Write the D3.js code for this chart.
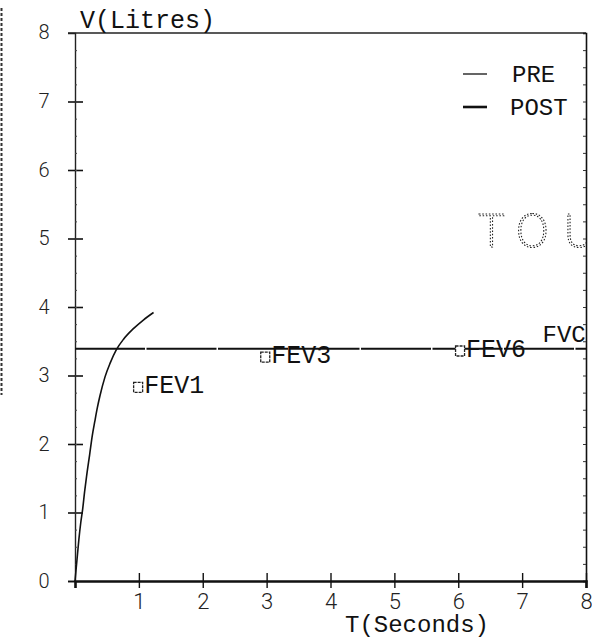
<!DOCTYPE html>
<html lang="en">
<head>
<meta charset="UTF-8">
<title>Spirometry V/T</title>
<script src="https://d3js.org/d3.v7.min.js"></script>
<style>
  body { margin: 0; background: #fff; }
  .mono { font-family: "Liberation Mono", "DejaVu Sans Mono", monospace; fill: #111; }
  .tick text { font-family: Roboto, "DejaVu Sans", sans-serif; font-weight: 300; fill: #222; }
</style>
</head>
<body>
<svg width="592" height="640"></svg>
<script>
// volume-time curve (PRE)
const curveT = [0, 0.03, 0.06, 0.09, 0.12, 0.15, 0.18, 0.23, 0.27, 0.31, 0.35, 0.39, 0.47, 0.55, 0.65, 0.76, 0.91, 1.07, 1.23];
const curveV = [0, 0.30, 0.60, 0.85, 1.05, 1.30, 1.52, 1.85, 2.12, 2.33, 2.53, 2.70, 2.98, 3.18, 3.38, 3.53, 3.68, 3.81, 3.92];

// FVC level line
const fvcValue = 3.39;

// marker labels
const markNames = ["FEV1", "FEV3", "FEV6"];
const markT = [0.91, 2.90, 5.95];
const markV = [2.74, 3.18, 3.27];
const fvcLabelT = 7.32;
const fvcLabelV = 3.49;

const xTicks = [1, 2, 3, 4, 5, 6, 7, 8];
const yTicks = [0, 1, 2, 3, 4, 5, 6, 7, 8];

const legendNames = ["PRE", "POST"];

const margin = { top: 33, right: 6, bottom: 59, left: 75 };
const width = 592 - margin.left - margin.right;
const height = 640 - margin.top - margin.bottom;

const svg = d3.select("svg");

const g = svg.append("g")
    .attr("transform", `translate(${margin.left},${margin.top})`);

const x = d3.scaleLinear().domain([0, 8]).range([0, width]);
const y = d3.scaleLinear().domain([0, 8]).range([height, 0]);

svg.append("defs").append("clipPath").attr("id", "plot")
    .append("rect").attr("width", width).attr("height", height);

// scanned edge on the far left
svg.append("line")
    .attr("x1", 1.5).attr("x2", 1.5).attr("y1", 8).attr("y2", 395)
    .attr("stroke", "#333").attr("stroke-width", 2)
    .attr("stroke-dasharray", "3,2");

// faint dotted watermark (grayscale filter keeps the edges grey)
g.append("g").attr("clip-path", "url(#plot)")
    .style("filter", "grayscale(1)")
    .append("text")
    .attr("y", y(4.87))
    .style("font-family", "DejaVu Sans, sans-serif")
    .style("font-size", "44px")
    .style("font-weight", 200)
    .attr("fill", "none")
    .attr("stroke", "#222")
    .attr("stroke-width", 1.1)
    .attr("stroke-dasharray", "1.5,1.8")
    .selectAll("tspan")
    .data(["T", "O", "U"])
    .enter()
    .append("tspan")
    .attr("x", (d, i) => [403, 440, 488][i])
    .text(d => d);

// y axis
const yAxis = g.append("g")
    .call(d3.axisLeft(y).tickValues(yTicks.filter(d => d < 8)).tickFormat(d3.format("d")).tickSize(7).tickPadding(0));
yAxis.select(".domain").attr("stroke", "#222").attr("stroke-width", 1.4);
yAxis.selectAll(".tick line")
    .attr("x1", d => d === 0 ? 0 : 8)
    .attr("stroke", "#111").attr("stroke-width", 1.6);
yAxis.selectAll(".tick text")
    .attr("x", -31).attr("text-anchor", "middle")
    .style("font-size", "20px");
// the top label sits on the frame line
yAxis.append("g").attr("class", "tick")
    .attr("transform", `translate(0,${y(8)})`)
    .append("text").attr("x", -31).attr("dy", "0.32em")
    .attr("text-anchor", "middle").style("font-size", "20px")
    .text("8");

// small inner marks along the left and right sides
g.append("g")
    .call(d3.axisRight(y).tickValues(d3.range(0.25, 8, 0.25)).tickFormat("").tickSize(2))
    .call(a => a.select(".domain").remove())
    .selectAll("line").attr("stroke", "#444").attr("stroke-width", 1);
g.append("g")
    .attr("transform", `translate(${width},0)`)
    .call(d3.axisLeft(y).tickValues(d3.range(0.25, 8, 0.25)).tickFormat("").tickSize(3))
    .call(a => a.select(".domain").attr("stroke", "#111").attr("stroke-width", 1.6))
    .selectAll("line").attr("stroke", "#333").attr("stroke-width", 1);

// top frame line
g.append("line")
    .attr("x1", -7).attr("x2", width)
    .attr("y1", y(8)).attr("y2", y(8))
    .attr("stroke", "#222").attr("stroke-width", 1.4);

// x axis
const xAxis = g.append("g")
    .attr("transform", `translate(0,${height})`)
    .call(d3.axisBottom(x).tickValues(xTicks).tickFormat(d3.format("d")).tickSize(7).tickPadding(5));
xAxis.select(".domain").attr("stroke", "#111").attr("stroke-width", 2.6);
xAxis.selectAll(".tick line")
    .attr("y1", -8)
    .attr("stroke", "#111").attr("stroke-width", 1.4);
xAxis.selectAll(".tick text").style("font-size", "22px");

// FVC level
g.append("line")
    .attr("x1", x(0)).attr("x2", x(8))
    .attr("y1", y(fvcValue)).attr("y2", y(fvcValue))
    .attr("stroke", "#111").attr("stroke-width", 2)
    .attr("stroke-dasharray", "70,1.5");

// PRE curve
const line = d3.line()
    .x((d, i) => x(curveT[i]))
    .y(d => y(d))
    .curve(d3.curveMonotoneX);
g.append("path")
    .datum(curveV)
    .attr("d", line)
    .attr("fill", "none")
    .attr("stroke", "#111")
    .attr("stroke-width", 1.6);

// markers with labels
const marks = g.selectAll(".mark")
    .data(markNames)
    .enter()
    .append("g")
    .attr("class", "mark")
    .attr("transform", (d, i) => `translate(${x(markT[i])},${y(markV[i])})`);
marks.append("rect")
    .attr("x", 0.5).attr("y", -11)
    .attr("width", 9).attr("height", 10)
    .attr("fill", "#fff").attr("stroke", "#222").attr("stroke-width", 1.3)
    .attr("stroke-dasharray", "3,1");
marks.append("text")
    .attr("class", "mono")
    .attr("x", 11)
    .style("font-size", "25px")
    .text(d => d);

g.append("text")
    .attr("class", "mono")
    .attr("x", x(fvcLabelT)).attr("y", y(fvcLabelV))
    .style("font-size", "24px")
    .text("FVC");

// axis titles
svg.append("text")
    .attr("class", "mono")
    .attr("x", 80).attr("y", 28)
    .style("font-size", "25px")
    .text("V(Litres)");
svg.append("text")
    .attr("class", "mono")
    .attr("x", 345).attr("y", 632)
    .style("font-size", "24px")
    .text("T(Seconds)");

// legend
const legend = svg.selectAll(".legend")
    .data(legendNames)
    .enter()
    .append("g")
    .attr("class", "legend")
    .attr("transform", (d, i) => `translate(463,${74 + i * 33})`);
legend.append("line")
    .attr("x1", 0).attr("x2", 24)
    .attr("stroke", "#111")
    .attr("stroke-width", (d, i) => i === 0 ? 1.3 : 2.6);
legend.append("text")
    .attr("class", "mono")
    .attr("x", (d, i) => i === 0 ? 49 : 47)
    .attr("y", 8)
    .style("font-size", "24px")
    .text(d => d);
</script>
</body>
</html>
